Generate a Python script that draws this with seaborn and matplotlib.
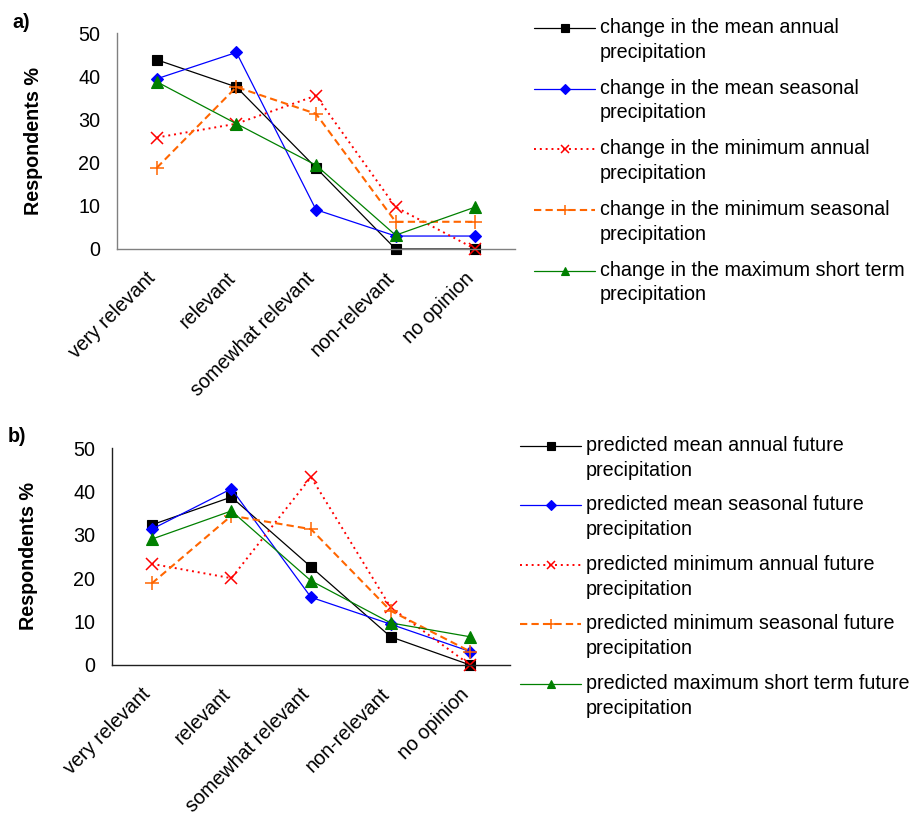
import matplotlib
matplotlib.use("Agg")
import numpy as np
import matplotlib.pyplot as plt
import seaborn as sns
from matplotlib.lines import Line2D
from matplotlib.legend_handler import HandlerLine2D
from matplotlib.ticker import FixedLocator, MultipleLocator
from matplotlib.transforms import ScaledTranslation

# ---------------- data ----------------
categories = ["very relevant", "relevant", "somewhat relevant", "non-relevant", "no opinion"]

a_labels = [
    "change in the mean annual\nprecipitation",
    "change in the mean seasonal\nprecipitation",
    "change in the minimum annual\nprecipitation",
    "change in the minimum seasonal\nprecipitation",
    "change in the maximum short term\nprecipitation",
]
a_mean_annual = [43.8, 37.5, 18.8, 0.0, 0.0]
a_mean_seasonal = [39.4, 45.5, 9.1, 3.0, 3.0]
a_min_annual = [25.8, 29.0, 35.5, 9.7, 0.0]
a_min_seasonal = [18.8, 37.5, 31.3, 6.3, 6.3]
a_max_short = [38.7, 29.0, 19.4, 3.2, 9.7]

b_labels = [
    "predicted mean annual future\nprecipitation",
    "predicted mean seasonal future\nprecipitation",
    "predicted minimum annual future\nprecipitation",
    "predicted minimum seasonal future\nprecipitation",
    "predicted maximum short term future\nprecipitation",
]
b_mean_annual = [32.3, 38.7, 22.6, 6.5, 0.0]
b_mean_seasonal = [31.3, 40.6, 15.6, 9.4, 3.1]
b_min_annual = [23.3, 20.0, 43.3, 13.3, 0.0]
b_min_seasonal = [18.8, 34.4, 31.3, 12.5, 3.1]
b_max_short = [29.0, 35.5, 19.4, 9.7, 6.5]

# ---------------- styles ----------------
styles = [
    dict(color="black", marker="s", linestyle="-", linewidth=0.9, markersize=7,
         markeredgecolor="black", markeredgewidth=0.8),
    dict(color="#0000FF", marker="D", linestyle="-", linewidth=0.9, markersize=6.5,
         markeredgecolor="#0000FF", markeredgewidth=0.8),
    dict(color="#FF0000", marker="x", linestyle=(0, (1, 2)), linewidth=1.4, markersize=8,
         markeredgecolor="#FF0000", markeredgewidth=1.1),
    dict(color="#FF6600", marker="+", linestyle=(0, (3.5, 2)), linewidth=1.5, markersize=10,
         markeredgecolor="#FF6600", markeredgewidth=1.1),
    dict(color="#008000", marker="^", linestyle="-", linewidth=0.9, markersize=8,
         markeredgecolor="#008000", markeredgewidth=0.8),
]

sns.set_style("white")
FS = 14.2
plt.rcParams["font.family"] = ["Liberation Sans", "DejaVu Sans"]
plt.rcParams["font.size"] = FS
plt.rcParams["text.color"] = "black"
plt.rcParams["axes.labelcolor"] = "black"
plt.rcParams["xtick.color"] = "black"
plt.rcParams["ytick.color"] = "black"


class FirstLineHandler(HandlerLine2D):
    """Place the legend handle next to the first line of a two-line label."""

    def __init__(self, shift, **kw):
        super().__init__(**kw)
        self.shift = shift

    def create_artists(self, legend, orig_handle, xdescent, ydescent,
                       width, height, fontsize, trans):
        arts = super().create_artists(legend, orig_handle, xdescent, ydescent,
                                      width, height, fontsize, trans)
        for a in arts:
            a.set_ydata(np.asarray(a.get_ydata(), dtype=float) + self.shift)
        return arts


fig = plt.figure(figsize=(9.16, 8.16), dpi=100)
W, H = 916, 816


def axes_px(left, right, top, bottom):
    return fig.add_axes([left / W, 1 - bottom / H, (right - left) / W, (bottom - top) / H])


def panel(ax, series, labels, spine_color, leg_x, leg_top, leg_spacing, tag, tag_xy):
    for vals, lab, st in zip(series, labels, styles):
        sns.lineplot(x=categories, y=vals, ax=ax, label=lab, sort=False,
                     errorbar=None, clip_on=False, **st)
    ax.set_xlim(-0.5, 4.5)
    ax.set_ylim(0, 50)
    ax.yaxis.set_major_locator(MultipleLocator(10))
    ax.xaxis.set_minor_locator(FixedLocator(np.arange(-0.5, 5.0, 1.0)))
    for s in ["top", "right"]:
        ax.spines[s].set_visible(False)
    for s in ["left", "bottom"]:
        ax.spines[s].set_color(spine_color)
        ax.spines[s].set_linewidth(1.0)
    ax.tick_params(axis="x", which="major", length=0, pad=14, labelsize=FS, labelcolor="black")
    ax.tick_params(axis="x", which="minor", length=4, width=1.0, color=spine_color, direction="out")
    ax.tick_params(axis="y", length=4, width=1.0, color=spine_color, direction="out", pad=8,
                   labelsize=FS, labelcolor="black")
    offset = ScaledTranslation(-0.11, 0.0, fig.dpi_scale_trans)
    for t in ax.get_xticklabels():
        t.set_rotation(45)
        t.set_ha("right")
        t.set_va("top")
        t.set_rotation_mode("anchor")
        t.set_transform(t.get_transform() + offset)
    ax.set_xlabel("")
    ax.set_ylabel("Respondents %", fontsize=FS, fontweight="bold", color="black")
    ax.yaxis.set_label_coords(-0.186, 0.5)
    ax.grid(False)

    handles, labs = ax.get_legend_handles_labels()
    ax.get_legend().remove()
    leg = fig.legend(handles, labs, loc="upper left",
                     bbox_to_anchor=(leg_x / W, 1 - leg_top / H),
                     frameon=False, borderpad=0, borderaxespad=0,
                     handlelength=3.1, handletextpad=0.25, labelspacing=leg_spacing,
                     markerscale=0.75, fontsize=FS,
                     handler_map={Line2D: FirstLineHandler(shift=9.0)})
    for t in leg.get_texts():
        t.set_linespacing(1.38)
        t.set_color("black")
    fig.text(tag_xy[0] / W, 1 - tag_xy[1] / H, tag, fontsize=FS, fontweight="bold",
             ha="left", va="center", color="black")


ax_a = axes_px(117, 515, 33, 249)
panel(ax_a,
      [a_mean_annual, a_mean_seasonal, a_min_annual, a_min_seasonal, a_max_short],
      a_labels, "#808080", 534, 18, 0.86, "a)", (12, 22))

ax_b = axes_px(112, 510, 448, 665)
panel(ax_b,
      [b_mean_annual, b_mean_seasonal, b_min_annual, b_min_seasonal, b_max_short],
      b_labels, "#202020", 520, 436, 0.80, "b)", (8, 436))

fig.savefig("out.png", dpi=100)
